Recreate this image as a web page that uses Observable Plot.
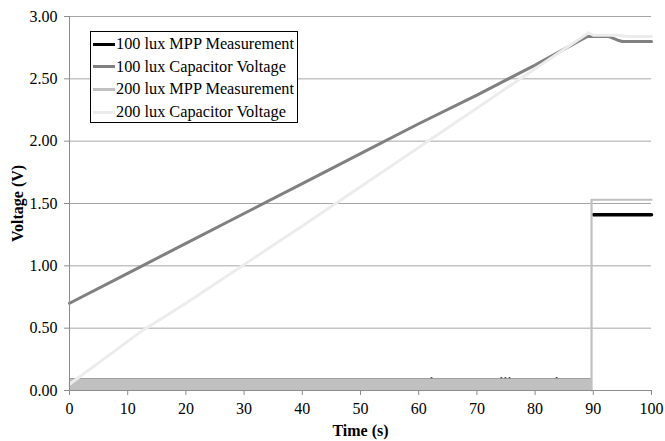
<!DOCTYPE html>
<html>
<head>
<meta charset="utf-8">
<script src="https://cdn.jsdelivr.net/npm/d3@7"></script>
<script src="https://cdn.jsdelivr.net/npm/@observablehq/plot@0.6"></script>
<style>
  html, body { margin: 0; padding: 0; background: #fff; font-family: "Liberation Serif", "Times New Roman", serif; }
  #wrap { position: relative; width: 665px; height: 441px; font-family: "Liberation Serif", "Times New Roman", serif; }
  #wrap svg, #wrap svg text { font-family: "Liberation Serif", "Times New Roman", serif !important; }
  #wrap svg g[aria-label="x-axis label"] text,
  #wrap svg g[aria-label="y-axis label"] text { font-weight: bold; font-size: 16px; }
  #legend { position: absolute; left: 90px; top: 31px; width: 208px; height: 92px; border: 1px solid #000; background: #fff; box-sizing: border-box; padding-top: 1px; }
  .row { height: 22.6px; display: flex; align-items: center; font-size: 16.3px; color: #000; white-space: nowrap; }
  .sw { width: 22px; height: 3px; margin-left: 2px; margin-right: 1px; }
</style>
</head>
<body>
<div id="wrap"></div>
<script>
// ---- data ----
const xTicks = [0, 10, 20, 30, 40, 50, 60, 70, 80, 90, 100];
const yTicks = [0, 0.5, 1.0, 1.5, 2.0, 2.5, 3.0];

const seriesNames = ["100 lux MPP Measurement", "100 lux Capacitor Voltage", "200 lux MPP Measurement", "200 lux Capacitor Voltage"];
const seriesColors = ["#000000", "#808080", "#c0c0c0", "#ececec"];

// 100 lux capacitor voltage
const cap100T = [0, 10, 20, 30, 40, 50, 60, 70, 80, 87.8, 89, 92.6, 94.2, 95, 100];
const cap100V = [0.70, 0.94, 1.18, 1.42, 1.66, 1.90, 2.14, 2.37, 2.61, 2.81, 2.84, 2.84, 2.81, 2.80, 2.80];

// 200 lux capacitor voltage
const cap200T = [0, 12.5, 20, 40, 60, 80, 89.2, 90, 94, 96, 100];
const cap200V = [0.05, 0.48, 0.70, 1.32, 1.95, 2.58, 2.87, 2.85, 2.85, 2.84, 2.84];

// MPP measurement: fast toggling band before the switch, then steady value
const mppBandT = [0, 89.7];
const mppBandLo = [0, 0];
const mppBandHi = [0.095, 0.095];

const mpp100T = [90.0, 100];
const mpp100V = [1.41, 1.41];
const spikes100T = [62.2, 74.2, 74.9, 75.6, 83.7];
const spikes100V = [0.097, 0.097, 0.097, 0.097, 0.097];

const mpp200T = [89.7, 89.7, 100];
const mpp200V = [0.0, 1.53, 1.53];

// ---- build tables ----
const zip = (T, V) => T.map((t, i) => ({t, v: V[i]}));
const cap100 = zip(cap100T, cap100V);
const cap200 = zip(cap200T, cap200V);
const band = mppBandT.map((t, i) => ({t, lo: mppBandLo[i], hi: mppBandHi[i]}));
const mpp100 = zip(mpp100T, mpp100V);
const spikes100 = zip(spikes100T, spikes100V);
const mpp200 = zip(mpp200T, mpp200V);

const axisGray = "#8c8c8c";
const gridGray = "#a6a6a6";

const chart = Plot.plot({
  width: 665,
  height: 441,
  marginLeft: 69,
  marginRight: 14,
  marginTop: 16,
  marginBottom: 51,
  style: { fontSize: "16px", color: "#000", background: "#fff" },
  x: { domain: [0, 100] },
  y: { domain: [0, 3] },
  marks: [
    Plot.gridY(yTicks.filter(d => d > 0), { stroke: gridGray, strokeOpacity: 1, strokeWidth: 1 }),
    // 100 lux MPP (under)
    Plot.areaY(band, { x: "t", y1: "lo", y2: "hi", fill: seriesColors[0] }),
    Plot.line(mpp100, { x: "t", y: "v", stroke: seriesColors[0], strokeWidth: 3.5 }),
    Plot.dot(spikes100, { x: "t", y: "v", r: 1.2, fill: seriesColors[0] }),
    // 100 lux capacitor
    Plot.line(cap100, { x: "t", y: "v", stroke: seriesColors[1], strokeWidth: 3 }),
    // 200 lux MPP
    Plot.areaY(band, { x: "t", y1: "lo", y2: "hi", fill: seriesColors[2] }),
    Plot.line(mpp200, { x: "t", y: "v", stroke: seriesColors[2], strokeWidth: 2.2 }),
    // 200 lux capacitor
    Plot.line(cap200, { x: "t", y: "v", stroke: seriesColors[3], strokeWidth: 3 }),
    Plot.ruleX([0], { stroke: axisGray }),
    Plot.ruleY([0], { stroke: axisGray }),
    Plot.axisY({ ticks: yTicks, tickFormat: d3.format(".2f"), tickSize: 5, tickPadding: 7, stroke: axisGray, fontSize: 16,
      label: "Voltage (V)", labelAnchor: "center", labelArrow: "none", labelOffset: 58 }),
    Plot.axisX({ ticks: xTicks, tickSize: 5, tickPadding: 7, stroke: axisGray, fontSize: 16,
      label: "Time (s)", labelAnchor: "center", labelArrow: "none", labelOffset: 45 })
  ]
});

const wrap = document.getElementById("wrap");
wrap.appendChild(chart);

const legend = document.createElement("div");
legend.id = "legend";
seriesNames.forEach((name, i) => {
  const row = document.createElement("div");
  row.className = "row";
  const sw = document.createElement("div");
  sw.className = "sw";
  sw.style.background = seriesColors[i];
  row.appendChild(sw);
  const tx = document.createElement("span");
  tx.textContent = name;
  row.appendChild(tx);
  legend.appendChild(row);
});
wrap.appendChild(legend);
</script>
</body>
</html>
